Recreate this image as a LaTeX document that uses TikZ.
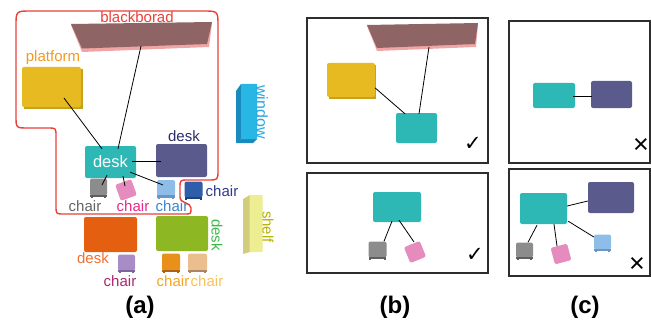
\documentclass[tikz,border=0pt]{standalone}
\usepackage{fontspec}
\setmainfont{Liberation Sans}
\newfontfamily\symfont{DejaVu Sans}
\usetikzlibrary{calc}

% object fills
\definecolor{cTeal}{RGB}{45,184,181}
\definecolor{cPurp}{RGB}{90,90,140}
\definecolor{cBoard}{RGB}{142,100,100}
\definecolor{cBoardEdge}{RGB}{240,165,165}
\definecolor{cYel}{RGB}{230,186,32}
\definecolor{cYelDk}{RGB}{200,160,25}
\definecolor{cWin}{RGB}{40,182,228}
\definecolor{cWinDk}{RGB}{24,138,190}
\definecolor{cGray}{RGB}{140,140,140}
\definecolor{cGrayDk}{RGB}{95,95,95}
\definecolor{cPink}{RGB}{229,139,190}
\definecolor{cLBlue}{RGB}{142,189,232}
\definecolor{cLBlueDk}{RGB}{105,150,200}
\definecolor{cDBlue}{RGB}{46,93,170}
\definecolor{cDBlueDk}{RGB}{30,65,130}
\definecolor{cOrDesk}{RGB}{228,96,16}
\definecolor{cLav}{RGB}{167,140,197}
\definecolor{cLavDk}{RGB}{125,100,160}
\definecolor{cGreen}{RGB}{141,184,36}
\definecolor{cOrChair}{RGB}{232,144,26}
\definecolor{cOrChairDk}{RGB}{170,100,20}
\definecolor{cPeach}{RGB}{235,190,142}
\definecolor{cPeachDk}{RGB}{170,135,100}
\definecolor{cShelf}{RGB}{237,237,145}
\definecolor{cShelfDk}{RGB}{210,205,125}
% label colours
\definecolor{tRed}{RGB}{232,65,58}
\definecolor{tPlat}{RGB}{242,154,31}
\definecolor{tNavy}{RGB}{43,43,111}
\definecolor{tWin}{RGB}{44,166,224}
\definecolor{tGray}{RGB}{100,100,100}
\definecolor{tMag}{RGB}{232,40,139}
\definecolor{tBlue}{RGB}{58,133,208}
\definecolor{tDBlue}{RGB}{46,58,143}
\definecolor{tOr}{RGB}{240,112,48}
\definecolor{tCrim}{RGB}{168,40,110}
\definecolor{tGreen}{RGB}{61,184,74}
\definecolor{tOrChair}{RGB}{245,166,35}
\definecolor{tPeach}{RGB}{248,194,90}
\definecolor{tShelf}{RGB}{184,176,0}
\definecolor{frame}{RGB}{45,45,45}

\newcommand\chairlegs[2]{%
  \fill[#2] ($(#1.south west)+(0.5,-1)$) rectangle ($(#1.south east)+(-0.5,1.5)$);
  \fill[#2] ($(#1.south west)+(1,0)$) rectangle ($(#1.south west)+(3,2.5)$);
  \fill[#2] ($(#1.south east)+(-3,0)$) rectangle ($(#1.south east)+(-1,2.5)$);}

\tikzset{
  obj/.style={rectangle, rounded corners=2pt, inner sep=0pt, draw=none},
  lab/.style={inner sep=0pt, font=\fontsize{15}{15}\selectfont},
  link/.style={line width=0.8pt, black},
  panel/.style={draw=frame, line width=1.3pt},
  redline/.style={draw=tRed, line width=1.4pt},
  caption/.style={inner sep=0pt, font=\fontsize{24}{24}\selectfont\bfseries},
  okmark/.style={inner sep=0pt, font=\symfont\fontsize{21}{21}\selectfont},
  nomark/.style={inner sep=0pt, font=\fontsize{27}{27}\selectfont},
}

\begin{document}
\begin{tikzpicture}[x=1pt,y=-1pt]
\useasboundingbox (0,0) rectangle (651,329);

% ===================== (a) full scene =====================
% blackboard
\fill[cBoardEdge] (71,25) -- (212,23) -- (209,47) -- (82,52) -- cycle;
\fill[cBoard] (71,24) -- (212,22) -- (207,44) -- (82,48.5) -- cycle;
\coordinate (boardA) at (141,46);
\node[lab, text=tRed] (lblBoard) at (137,17) {blackborad};

% platform
\fill[cYelDk] (24,69) -- (83,69) -- (83,109) -- (24,109) -- cycle;
\node[obj, fill=cYel, minimum width=59pt, minimum height=40pt] (platA) at (51.5,87) {};
\node[lab, text=tPlat] (lblPlat) at (53,58) {platform};

% window
\fill[cWinDk] (236,91) -- (241,84) -- (241,139) -- (236,143) -- cycle;
\fill[cWinDk] (236,143) -- (241,139) -- (257,139) -- (253,143) -- cycle;
\node[obj, rounded corners=0.5pt, fill=cWin, minimum width=16pt, minimum height=55pt] (winA) at (249,111.5) {};
\node[lab, text=tWin, rotate=-90, font=\fontsize{16}{16}\selectfont] (lblWin) at (262,112) {window};

% shelf
\fill[cShelfDk] (243,199) -- (250,195) -- (250,252) -- (243,254) -- cycle;
\node[obj, rounded corners=0.5pt, fill=cShelf, minimum width=13pt, minimum height=57pt] (shelfA) at (256,223.5) {};
\node[lab, text=tShelf, rotate=-90] (lblShelf) at (268,227) {shelf};

% desks
\node[obj, fill=cTeal, minimum width=51pt, minimum height=32pt,
      text=white, font=\fontsize{16.5}{16.5}\selectfont] (deskA) at (110.5,162) {desk};
\node[obj, fill=cPurp, minimum width=51pt, minimum height=33pt] (purpA) at (181.5,160.5) {};
\node[lab, text=tNavy] (lblPurp) at (184,136) {desk};
\node[obj, fill=cOrDesk, minimum width=53pt, minimum height=35pt] (orDeskA) at (110.5,234.5) {};
\node[lab, text=tOr] (lblOrDesk) at (93,258) {desk};
\node[obj, fill=cGreen, minimum width=52pt, minimum height=35pt] (grDeskA) at (182,233.5) {};
\node[lab, text=tGreen, rotate=-90] (lblGrDesk) at (217,235) {desk};

% chairs
\node[obj, fill=cGray, minimum width=17pt, minimum height=17pt] (grayA) at (98.5,187) {};
\chairlegs{grayA}{cGrayDk}
\node[lab, text=tGray] (lblGrayA) at (85,206) {chair};
\node[obj, fill=cPink, minimum width=17pt, minimum height=17pt, rotate=20] (pinkA) at (126,190) {};
\node[lab, text=tMag] (lblPinkA) at (133,206) {chair};
\node[obj, fill=cLBlue, minimum width=18pt, minimum height=16pt] (lbA) at (166,188) {};
\chairlegs{lbA}{cLBlueDk}
\node[lab, text=tBlue] (lblLbA) at (172,206) {chair};
\node[obj, fill=cDBlue, minimum width=18pt, minimum height=16pt] (dbA) at (193.5,189.5) {};
\chairlegs{dbA}{cDBlueDk}
\node[lab, text=tDBlue] (lblDbA) at (222,191) {chair};
\node[obj, fill=cLav, minimum width=17pt, minimum height=16pt] (lavA) at (126.5,262.5) {};
\chairlegs{lavA}{cLavDk}
\node[lab, text=tCrim] (lblLavA) at (120,281) {chair};
\node[obj, fill=cOrChair, minimum width=18pt, minimum height=17pt] (orA) at (171,262) {};
\chairlegs{orA}{cOrChairDk}
\node[lab, text=tOrChair] (lblOrA) at (173,281) {chair};
\node[obj, fill=cPeach, minimum width=19pt, minimum height=17pt] (peA) at (197.5,262) {};
\chairlegs{peA}{cPeachDk}
\node[lab, text=tPeach] (lblPeA) at (207,281) {chair};

% relations in the selected group
\draw[link] ($(platA.center)+(12.5,11)$) -- ($(deskA.north)+(-8.5,3)$);
\draw[link] (boardA) -- ($(deskA.north)+(7.5,3)$);
\draw[link] ($(deskA.east)+(-4,-1)$) -- ($(purpA.west)+(5,0.5)$);
\draw[link] ($(deskA.south)+(-3.5,-3)$) -- ($(grayA.center)+(3.5,-2)$);
\draw[link] ($(deskA.south)+(12.5,-2)$) -- ($(pinkA.center)+(-1,-4)$);
\draw[link] ($(deskA.south east)+(-6,-6)$) -- ($(lbA.center)+(-3,-3)$);

% outline of the selected group
\draw[redline] (56,150) -- (56,136) .. controls (56,128) .. (48,128) -- (28,128)
  .. controls (16,128) .. (16,116) -- (16,26) .. controls (16,11) .. (31,11)
  -- (203,11) .. controls (218,11) .. (218,26) -- (218,170)
  .. controls (218,180) .. (208,180) -- (188,180) .. controls (180,180) .. (180,188)
  -- (180,197) .. controls (180,204) and (191,202) .. (191,208)
  .. controls (191,214) .. (185,214) -- (64,214) .. controls (56,214) .. (56,206) -- cycle;

\node[caption] (capA) at (140,307) {(a)};

% ===================== (b) correct groups =====================
\draw[panel] (307,18) rectangle (488,163);
\fill[cBoardEdge] (367,26) -- (478,24) -- (476,47) -- (377,51) -- cycle;
\fill[cBoard] (367,25) -- (478,23) -- (475,44) -- (377,48) -- cycle;
\coordinate (boardB) at (429,47);
\fill[cYelDk] (329,65) -- (376,65) -- (376,99) -- (329,99) -- cycle;
\node[obj, fill=cYel, minimum width=48pt, minimum height=34pt] (platB) at (351,80) {};
\node[obj, fill=cTeal, minimum width=41pt, minimum height=30pt] (deskB1) at (416.5,128) {};
\draw[link] ($(platB.east)+(0,8)$) -- ($(deskB1.north)+(-11.5,1)$);
\draw[link] (boardB) -- ($(deskB1.north)+(2.5,1)$);
\node[okmark] (okB1) at (473,144) {✓};

\draw[panel] (307,173) rectangle (488,273);
\node[obj, fill=cTeal, minimum width=48pt, minimum height=30pt] (deskB2) at (397,207) {};
\node[obj, fill=cGray, minimum width=18pt, minimum height=16pt] (grayB) at (377.5,249.5) {};
\chairlegs{grayB}{cGrayDk}
\node[obj, fill=cPink, minimum width=17pt, minimum height=17pt, rotate=22] (pinkB) at (415,252) {};
\draw[link] ($(deskB2.south)+(-5,-1)$) -- ($(grayB.north)+(6.5,0)$);
\draw[link] ($(deskB2.south)+(2,-2)$) -- ($(pinkB.center)+(-1,-10)$);
\node[okmark] (okB2) at (475,255) {✓};

\node[caption] (capB) at (395,307) {(b)};

% ===================== (c) wrong groups =====================
\draw[panel] (509,21) rectangle (650,163);
\node[obj, fill=cTeal, minimum width=42pt, minimum height=25pt] (deskC1) at (554,95.5) {};
\node[obj, fill=cPurp, minimum width=41pt, minimum height=27pt] (purpC1) at (611.5,94.5) {};
\draw[link] ($(deskC1.east)+(-2,0.5)$) -- ($(purpC1.west)+(1,1.5)$);
\node[nomark] (noC1) at (641,146) {×};

\draw[panel] (509,169) rectangle (650,276);
\node[obj, fill=cTeal, minimum width=47pt, minimum height=31pt] (deskC2) at (543.5,208.5) {};
\node[obj, fill=cPurp, minimum width=46pt, minimum height=31pt] (purpC2) at (611,197.5) {};
\node[obj, fill=cGray, minimum width=17pt, minimum height=15pt] (grayC) at (524.5,250) {};
\chairlegs{grayC}{cGrayDk}
\node[obj, fill=cPink, minimum width=17pt, minimum height=17pt, rotate=15] (pinkC) at (561,254) {};
\node[obj, fill=cLBlue, minimum width=17pt, minimum height=15pt] (lbC) at (602.5,242) {};
\chairlegs{lbC}{cLBlueDk}
\draw[link] ($(deskC2.east)+(0,-2.5)$) -- ($(purpC2.west)+(0,3.5)$);
\draw[link] ($(deskC2.south)+(-6.5,1)$) -- ($(grayC.north)+(3.5,0)$);
\draw[link] ($(deskC2.south)+(10.5,0)$) -- ($(pinkC.center)+(-4,-8)$);
\draw[link] ($(deskC2.south east)+(1,-3)$) -- ($(lbC.west)+(0,-5)$);
\node[nomark] (noC2) at (637,265) {×};

\node[caption] (capC) at (585,307) {(c)};
\end{tikzpicture}
\end{document}
